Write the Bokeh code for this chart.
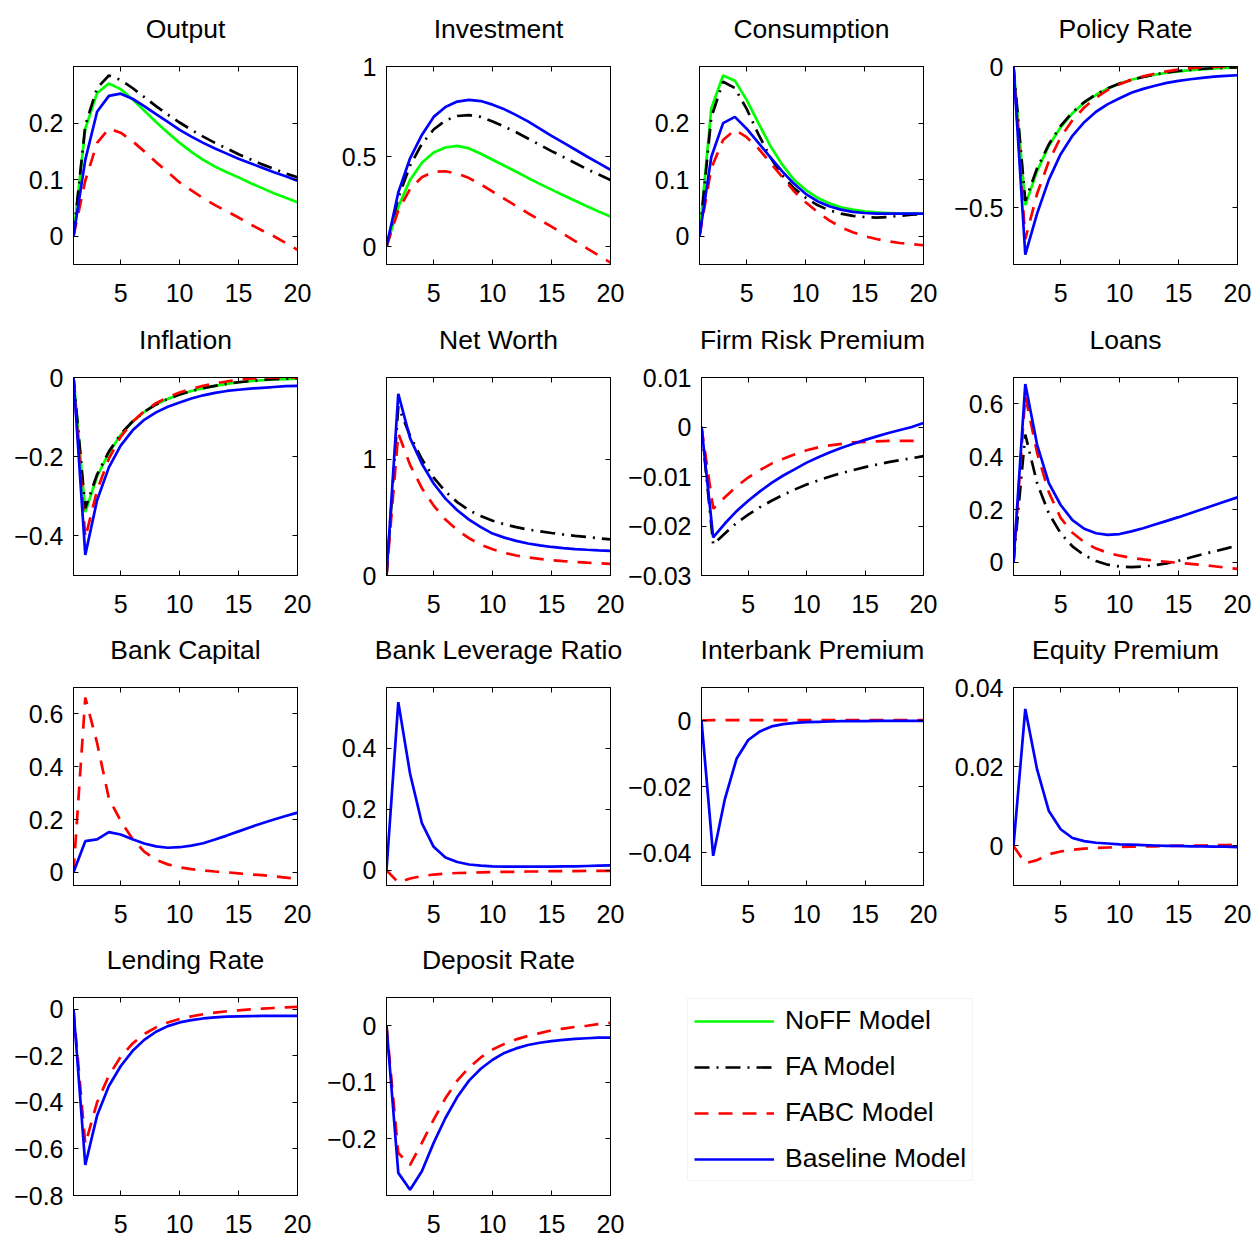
from bokeh.plotting import figure
from bokeh.layouts import column, row
from bokeh.models import (Range1d, FixedTicker, LinearAxis, CustomJSTickFormatter,
                          Legend, LegendItem)
from bokeh.embed import file_html
from bokeh.resources import INLINE

quarters = list(range(1, 21))
x_ticks = [5, 10, 15, 20]

# ---- data (x = 1..20) ----
output_noff = [0, 0.19, 0.253, 0.27, 0.26, 0.242, 0.222, 0.202, 0.183, 0.165, 0.149, 0.135, 0.123, 0.113, 0.104, 0.094, 0.085, 0.076, 0.068, 0.06]
output_fa = [0, 0.196, 0.262, 0.284, 0.276, 0.262, 0.246, 0.23, 0.215, 0.201, 0.188, 0.176, 0.165, 0.155, 0.145, 0.136, 0.127, 0.119, 0.111, 0.104]
output_fabc = [0, 0.098, 0.165, 0.19, 0.183, 0.168, 0.15, 0.131, 0.113, 0.095, 0.081, 0.067, 0.055, 0.044, 0.033, 0.021, 0.01, 0.0, -0.012, -0.024]
output_base = [0, 0.135, 0.22, 0.248, 0.252, 0.243, 0.23, 0.216, 0.202, 0.188, 0.176, 0.165, 0.155, 0.146, 0.137, 0.129, 0.121, 0.113, 0.106, 0.098]

invest_noff = [0, 0.22, 0.37, 0.465, 0.522, 0.55, 0.559, 0.545, 0.515, 0.482, 0.449, 0.415, 0.381, 0.348, 0.316, 0.285, 0.254, 0.224, 0.195, 0.167]
invest_fa = [0, 0.27, 0.45, 0.57, 0.65, 0.70, 0.725, 0.73, 0.72, 0.695, 0.665, 0.635, 0.60, 0.565, 0.53, 0.497, 0.464, 0.43, 0.40, 0.37]
invest_fabc = [0, 0.2, 0.32, 0.385, 0.415, 0.418, 0.405, 0.38, 0.345, 0.305, 0.265, 0.225, 0.185, 0.148, 0.11, 0.07, 0.03, -0.01, -0.05, -0.09]
invest_base = [0, 0.30, 0.49, 0.62, 0.72, 0.775, 0.805, 0.815, 0.808, 0.788, 0.762, 0.73, 0.695, 0.655, 0.615, 0.577, 0.539, 0.5, 0.463, 0.426]

cons_noff = [0, 0.226, 0.284, 0.275, 0.241, 0.2, 0.16, 0.127, 0.1, 0.082, 0.068, 0.058, 0.051, 0.047, 0.044, 0.042, 0.041, 0.04, 0.04, 0.04]
cons_fa = [0, 0.21, 0.273, 0.262, 0.225, 0.18, 0.14, 0.108, 0.085, 0.068, 0.055, 0.046, 0.04, 0.036, 0.034, 0.033, 0.034, 0.036, 0.038, 0.039]
cons_fabc = [0, 0.12, 0.17, 0.188, 0.175, 0.155, 0.13, 0.105, 0.08, 0.06, 0.043, 0.028, 0.016, 0.007, 0.0, -0.005, -0.009, -0.012, -0.014, -0.016]
cons_base = [0, 0.14, 0.2, 0.211, 0.19, 0.165, 0.14, 0.115, 0.093, 0.075, 0.062, 0.053, 0.047, 0.043, 0.041, 0.04, 0.04, 0.04, 0.04, 0.04]

policy_noff = [0, -0.49, -0.37, -0.28, -0.215, -0.165, -0.128, -0.1, -0.078, -0.06, -0.047, -0.037, -0.029, -0.022, -0.017, -0.013, -0.01, -0.007, -0.005, -0.004]
policy_fa = [0, -0.475, -0.36, -0.275, -0.21, -0.162, -0.126, -0.098, -0.077, -0.06, -0.047, -0.037, -0.028, -0.021, -0.016, -0.012, -0.008, -0.006, -0.004, -0.003]
policy_fabc = [0, -0.61, -0.45, -0.335, -0.25, -0.19, -0.145, -0.11, -0.083, -0.063, -0.047, -0.035, -0.025, -0.017, -0.011, -0.006, -0.003, -0.001, 0.0, 0.0]
policy_base = [0, -0.665, -0.52, -0.40, -0.31, -0.245, -0.197, -0.16, -0.133, -0.112, -0.093, -0.079, -0.068, -0.058, -0.051, -0.045, -0.04, -0.036, -0.033, -0.031]

infl_noff = [0, -0.34, -0.25, -0.19, -0.145, -0.112, -0.087, -0.068, -0.054, -0.043, -0.034, -0.027, -0.021, -0.016, -0.012, -0.009, -0.007, -0.005, -0.004, -0.003]
infl_fa = [0, -0.33, -0.245, -0.187, -0.143, -0.111, -0.087, -0.068, -0.054, -0.043, -0.034, -0.027, -0.021, -0.016, -0.012, -0.009, -0.006, -0.004, -0.003, -0.002]
infl_fabc = [0, -0.405, -0.285, -0.205, -0.15, -0.112, -0.085, -0.065, -0.05, -0.038, -0.029, -0.021, -0.015, -0.01, -0.006, -0.003, -0.001, 0.0, 0.0, 0.0]
infl_base = [0, -0.448, -0.31, -0.227, -0.172, -0.134, -0.107, -0.088, -0.074, -0.063, -0.053, -0.045, -0.039, -0.034, -0.031, -0.028, -0.026, -0.024, -0.022, -0.021]

networth_fa = [0, 1.45, 1.2, 1.0, 0.84, 0.72, 0.63, 0.56, 0.51, 0.47, 0.44, 0.415, 0.395, 0.38, 0.365, 0.352, 0.34, 0.33, 0.32, 0.31]
networth_fabc = [0, 1.22, 0.95, 0.75, 0.6, 0.48, 0.39, 0.32, 0.265, 0.225, 0.195, 0.172, 0.155, 0.142, 0.132, 0.123, 0.116, 0.11, 0.105, 0.1]
networth_base = [0, 1.56, 1.18, 0.96, 0.79, 0.66, 0.56, 0.48, 0.415, 0.36, 0.325, 0.297, 0.275, 0.258, 0.245, 0.235, 0.227, 0.221, 0.216, 0.212]

frp_fa = [0, -0.0237, -0.0215, -0.0194, -0.0177, -0.0162, -0.0149, -0.0137, -0.0126, -0.0116, -0.0108, -0.01, -0.0093, -0.0087, -0.0081, -0.0076, -0.0071, -0.0067, -0.0063, -0.0059]
frp_fabc = [0, -0.0165, -0.0142, -0.012, -0.0102, -0.0087, -0.0074, -0.0064, -0.0055, -0.0047, -0.0041, -0.0037, -0.0034, -0.0031, -0.003, -0.0029, -0.0028, -0.0028, -0.0028, -0.0028]
frp_base = [0, -0.0223, -0.0195, -0.017, -0.0149, -0.013, -0.0113, -0.0098, -0.0085, -0.0072, -0.0061, -0.0051, -0.0042, -0.0034, -0.0026, -0.0019, -0.0012, -0.0006, 0.0, 0.0008]

loans_fa = [0, 0.484, 0.3, 0.185, 0.11, 0.06, 0.027, 0.005, -0.009, -0.016, -0.018, -0.016, -0.011, -0.004, 0.006, 0.018, 0.03, 0.041, 0.052, 0.064]
loans_fabc = [0, 0.63, 0.415, 0.265, 0.168, 0.112, 0.076, 0.052, 0.036, 0.025, 0.017, 0.011, 0.006, 0.002, -0.002, -0.006, -0.01, -0.015, -0.02, -0.025]
loans_base = [0, 0.675, 0.446, 0.3, 0.217, 0.16, 0.127, 0.11, 0.104, 0.107, 0.117, 0.129, 0.143, 0.157, 0.171, 0.186, 0.201, 0.216, 0.231, 0.246]

bankcap_fabc = [0, 0.662, 0.49, 0.28, 0.195, 0.127, 0.078, 0.047, 0.03, 0.019, 0.012, 0.007, 0.003, 0.0, -0.004, -0.008, -0.011, -0.015, -0.02, -0.025]
bankcap_base = [0, 0.118, 0.125, 0.152, 0.143, 0.125, 0.109, 0.098, 0.093, 0.095, 0.101, 0.11, 0.124, 0.139, 0.155, 0.171, 0.186, 0.2, 0.213, 0.226]

leverage_fabc = [0, -0.04, -0.027, -0.019, -0.014, -0.011, -0.009, -0.008, -0.007, -0.006, -0.005, -0.005, -0.004, -0.004, -0.003, -0.003, -0.003, -0.002, -0.002, -0.002]
leverage_base = [0, 0.552, 0.317, 0.155, 0.077, 0.042, 0.027, 0.019, 0.015, 0.013, 0.012, 0.012, 0.012, 0.012, 0.012, 0.013, 0.013, 0.014, 0.015, 0.016]

interbank_fabc = [0, 0.0001, 0.0001, 0.0001, 0.0001, 0.0001, 0.0001, 0.0001, 0.0001, 0.0001, 0.0001, 0.0001, 0.0001, 0.0001, 0.0001, 0.0001, 0.0001, 0.0001, 0.0001, 0.0001]
interbank_base = [0, -0.041, -0.0238, -0.0116, -0.0059, -0.0033, -0.0018, -0.0011, -0.0007, -0.0005, -0.0004, -0.0003, -0.0002, -0.0002, -0.0002, -0.0001, -0.0001, -0.0001, -0.0001, -0.0001]

equity_fabc = [0, -0.0044, -0.0036, -0.0021, -0.0014, -0.001, -0.0007, -0.0005, -0.0004, -0.0003, -0.0002, -0.0001, -0.0001, 0.0, 0.0, 0.0001, 0.0001, 0.0002, 0.0002, 0.0003]
equity_base = [0, 0.0346, 0.0193, 0.0088, 0.0042, 0.002, 0.0012, 0.0008, 0.0006, 0.0004, 0.0003, 0.0002, 0.0001, 0.0, 0.0, -0.0001, -0.0001, -0.0002, -0.0002, -0.0003]

lending_fabc = [0, -0.58, -0.4, -0.285, -0.205, -0.148, -0.107, -0.078, -0.057, -0.042, -0.031, -0.022, -0.015, -0.009, -0.005, -0.001, 0.002, 0.005, 0.008, 0.01]
lending_base = [0, -0.669, -0.457, -0.33, -0.245, -0.18, -0.132, -0.097, -0.073, -0.057, -0.047, -0.04, -0.035, -0.032, -0.031, -0.03, -0.029, -0.029, -0.029, -0.029]

deposit_fabc = [0, -0.225, -0.246, -0.207, -0.166, -0.128, -0.097, -0.074, -0.056, -0.042, -0.032, -0.024, -0.018, -0.013, -0.008, -0.005, -0.002, 0.0, 0.003, 0.005]
deposit_base = [0, -0.26, -0.29, -0.257, -0.207, -0.163, -0.126, -0.097, -0.076, -0.06, -0.048, -0.04, -0.034, -0.03, -0.027, -0.025, -0.023, -0.022, -0.021, -0.021]

titles = ["Output", "Investment", "Consumption", "Policy Rate",
          "Inflation", "Net Worth", "Firm Risk Premium", "Loans",
          "Bank Capital", "Bank Leverage Ratio", "Interbank Premium", "Equity Premium",
          "Lending Rate", "Deposit Rate"]
y_limits = [(-0.05, 0.3), (-0.1, 1.0), (-0.05, 0.3), (-0.7, 0.0),
            (-0.5, 0.0), (0.0, 1.7), (-0.03, 0.01), (-0.05, 0.7),
            (-0.05, 0.7), (-0.05, 0.6), (-0.05, 0.01), (-0.01, 0.04),
            (-0.8, 0.05), (-0.3, 0.05)]
y_ticks = [[0, 0.1, 0.2], [0, 0.5, 1], [0, 0.1, 0.2], [-0.5, 0],
           [-0.4, -0.2, 0], [0, 1], [-0.03, -0.02, -0.01, 0, 0.01], [0, 0.2, 0.4, 0.6],
           [0, 0.2, 0.4, 0.6], [0, 0.2, 0.4], [-0.04, -0.02, 0], [0, 0.02, 0.04],
           [-0.8, -0.6, -0.4, -0.2, 0], [-0.2, -0.1, 0]]
# series per panel: (noff, fa, fabc, base)
series = [
    (output_noff, output_fa, output_fabc, output_base),
    (invest_noff, invest_fa, invest_fabc, invest_base),
    (cons_noff, cons_fa, cons_fabc, cons_base),
    (policy_noff, policy_fa, policy_fabc, policy_base),
    (infl_noff, infl_fa, infl_fabc, infl_base),
    (None, networth_fa, networth_fabc, networth_base),
    (None, frp_fa, frp_fabc, frp_base),
    (None, loans_fa, loans_fabc, loans_base),
    (None, None, bankcap_fabc, bankcap_base),
    (None, None, leverage_fabc, leverage_base),
    (None, None, interbank_fabc, interbank_base),
    (None, None, equity_fabc, equity_base),
    (None, None, lending_fabc, lending_base),
    (None, None, deposit_fabc, deposit_base),
]
model_names = ["NoFF Model", "FA Model", "FABC Model", "Baseline Model"]

FONT = "Liberation Sans"
styles = [
    dict(line_color="#00ff00", line_width=2.7),
    dict(line_color="#000000", line_width=2.7, line_dash="15 7 2 7"),
    dict(line_color="#ff0000", line_width=2.7, line_dash="14 10"),
    dict(line_color="#0000ff", line_width=2.7),
]

# layout geometry: (width, min_border_left, min_border_right) per column; (height, top, bottom) per row
col_geo = [(321, 73, 24), (304, 65, 15), (322, 74, 24), (306, 66, 16)]
row_geo = [(318, 66, 54), (310, 59, 53), (310, 59, 53), (300, 59, 43)]

num_fmt = "var s = String(Math.round(tick*1e6)/1e6); return s.replace('-', '\u2212');"
empty_fmt = "return '';"


def style_axis(ax, show_labels):
    ax.major_tick_in = 5
    ax.major_tick_out = 0
    ax.minor_tick_in = 0
    ax.minor_tick_out = 0
    ax.axis_line_color = "black"
    ax.axis_line_width = 1
    ax.major_tick_line_color = "black"
    ax.major_tick_line_width = 1
    if show_labels:
        ax.major_label_text_font = FONT
        ax.major_label_text_font_size = "25px"
        ax.major_label_text_color = "black"
        ax.formatter = CustomJSTickFormatter(code=num_fmt)
    else:
        ax.major_label_text_font_size = "0px"
        ax.major_label_standoff = 0
        ax.formatter = CustomJSTickFormatter(code=empty_fmt)


def make_panel(i):
    r, c = divmod(i, 4)
    w, bl, br = col_geo[c]
    h, bt, bb = row_geo[r]
    lo, hi = y_limits[i]
    p = figure(width=w, height=h, x_range=Range1d(1, 20), y_range=Range1d(lo, hi),
               output_backend="svg", toolbar_location=None, title=titles[i],
               min_border_left=bl, min_border_right=br, min_border_top=bt, min_border_bottom=bb)
    p.title.text_font = FONT
    p.title.text_font_size = "26.5px"
    p.title.text_font_style = "normal"
    p.title.text_color = "black"
    p.title.align = "center"
    p.title.standoff = 4
    p.outline_line_color = "black"
    p.outline_line_width = 1
    p.grid.visible = False
    p.xaxis.ticker = FixedTicker(ticks=x_ticks)
    p.yaxis.ticker = FixedTicker(ticks=y_ticks[i])
    style_axis(p.xaxis[0], True)
    style_axis(p.yaxis[0], True)
    p.xaxis.major_label_standoff = 19
    p.yaxis.major_label_standoff = 10
    # box ticks on top and right
    top = LinearAxis(ticker=FixedTicker(ticks=x_ticks))
    style_axis(top, False)
    p.add_layout(top, "above")
    # invisible spacer between the box and its title
    spacer = LinearAxis(ticker=FixedTicker(ticks=x_ticks))
    style_axis(spacer, False)
    spacer.major_tick_in = 0
    spacer.major_tick_out = 21
    spacer.major_tick_line_color = None
    spacer.axis_line_color = None
    p.add_layout(spacer, "above")
    right = LinearAxis(ticker=FixedTicker(ticks=y_ticks[i]))
    style_axis(right, False)
    p.add_layout(right, "right")
    for k, ys in enumerate(series[i]):
        if ys is None:
            continue
        p.line(quarters, ys, **styles[k])
    return p


panels = [make_panel(i) for i in range(14)]

# legend panel (spans columns 3-4 of the last row); its series lie outside its visible range
lf = figure(width=col_geo[2][0] + col_geo[3][0], height=row_geo[3][0], output_backend="svg",
            toolbar_location=None, x_axis_location=None, y_axis_location=None,
            min_border_left=0, min_border_right=0,
            min_border_top=row_geo[3][1], min_border_bottom=row_geo[3][2],
            x_range=Range1d(-2, -1), y_range=Range1d(0, 1))
lf.outline_line_color = None
lf.grid.visible = False
items = []
for k, name in enumerate(model_names):
    rr = lf.line(quarters, series[0][k], **styles[k])
    items.append(LegendItem(label=name, renderers=[rr]))
legend = Legend(items=items, location=(62, 14))
legend.label_text_font = FONT
legend.label_text_font_size = "26.5px"
legend.label_text_color = "black"
legend.glyph_width = 80
legend.glyph_height = 30
legend.label_height = 30
legend.label_standoff = 11
legend.spacing = 15
legend.padding = 6
legend.margin = 0
legend.border_line_color = "#e3e9e9"
legend.border_line_width = 1.5
legend.background_fill_color = "white"
lf.add_layout(legend)

layout = column(
    row(*panels[0:4]),
    row(*panels[4:8]),
    row(*panels[8:12]),
    row(panels[12], panels[13], lf),
)

open("out.html", "w").write(file_html(layout, INLINE))
